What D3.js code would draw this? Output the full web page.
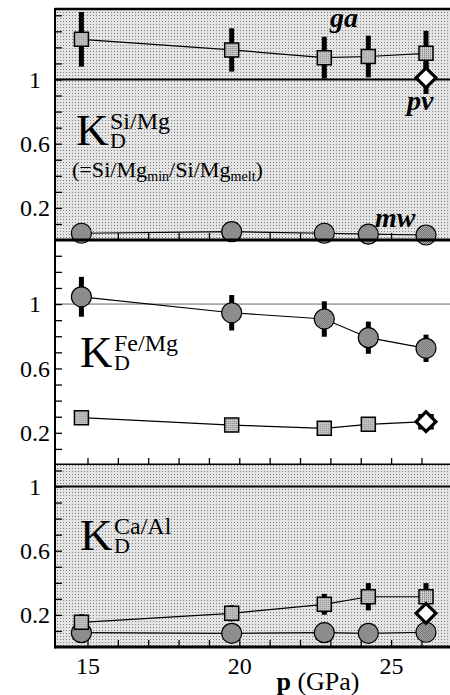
<!DOCTYPE html>
<html>
<head>
<meta charset="utf-8">
<script src="https://cdn.jsdelivr.net/npm/d3@7"></script>
<style>
body{margin:0;background:#fff}
svg{display:block}
text{font-family:"Liberation Serif","DejaVu Serif",serif}
</style>
</head>
<body>
<div class="kd"></div>
<script>
// pressures of the five runs (GPa)
const pressure = [14.8, 19.75, 22.8, 24.25, 26.15];
const xTickLabels = [15, 20, 25];
const yTickLabels = [0.2, 0.6, 1];

// Si/Mg
const siMgGa = [1.25, 1.184, 1.136, 1.143, 1.163];
const siMgGaErr = [0.17, 0.135, 0.13, 0.13, 0.14];
const siMgMw = [0.042, 0.052, 0.042, 0.036, 0.031];
const siMgPv = 1.01, siMgPvErr = 0.1;

// Fe/Mg
const feMgMw = [1.045, 0.946, 0.907, 0.791, 0.725];
const feMgMwErr = [0.124, 0.11, 0.11, 0.1, 0.085];
const feMgGa = [0.294, 0.248, 0.228, 0.253, 0.269];
const feMgPv = 0.269;

// Ca/Al
const caAlGa = [0.154, 0.21, 0.266, 0.313, 0.313];
const caAlGaErr = [0.05, 0.05, 0.065, 0.085, 0.085];
const caAlMw = [0.089, 0.085, 0.089, 0.085, 0.092];
const caAlPv = 0.21, caAlPvErr = 0.1;

const width = 450, height = 695, left = 55;

const svg = d3.select(".kd")
  .append("svg")
  .attr("width", width)
  .attr("height", height);

// dotted fills
const defs = svg.append("defs");
function dots(id, size, bg, fg, pts) {
  const p = defs.append("pattern").attr("id", id)
    .attr("width", size).attr("height", size)
    .attr("patternUnits", "userSpaceOnUse");
  p.append("rect").attr("width", size).attr("height", size).attr("fill", bg);
  pts.forEach(d => p.append("rect").attr("x", d[0]).attr("y", d[1])
    .attr("width", 1).attr("height", 1).attr("fill", fg));
}
dots("bgDots", 3, "#e4e4e4", "#808080", [[0, 0]]);
dots("sqDots", 2, "#cfcfcf", "#6a6a6a", [[0, 0]]);
dots("ciDots", 2, "#ababab", "#6e6e6e", [[0, 0], [1, 1]]);

const x = d3.scaleLinear().domain([13.93, 26.94]).range([left, width]);

const panels = [
  {top: 9, bottom: 240, max: 1.439, shaded: true, ref: ["#000", 2],
   sq: siMgGa, sqErr: siMgGaErr, ci: siMgMw, ciErr: null,
   pv: siMgPv, pvErr: siMgPvErr},
  {top: 240, bottom: 465, max: 1.398, shaded: false, ref: ["#666", 1],
   sq: feMgGa, sqErr: null, ci: feMgMw, ciErr: feMgMwErr,
   pv: feMgPv, pvErr: 0},
  {top: 465, bottom: 647, max: 1.134, shaded: true, ref: ["#000", 2],
   sq: caAlGa, sqErr: caAlGaErr, ci: caAlMw, ciErr: null,
   pv: caAlPv, pvErr: caAlPvErr}
];

const line = y => d3.line().x((d, i) => x(pressure[i])).y(d => y(d));
const sqSym = d3.symbol(d3.symbolSquare, 14 * 14);
const ciSym = d3.symbol(d3.symbolCircle, Math.PI * 10 * 10);
const diaSym = d3.symbol(d3.symbolSquare, 14 * 14);

panels.forEach((pn, k) => {
  const y = d3.scaleLinear().domain([0, pn.max]).range([pn.bottom, pn.top]);
  const g = svg.append("g");

  if (pn.shaded) {
    g.append("rect").attr("x", left).attr("y", pn.top)
      .attr("width", width - left).attr("height", pn.bottom - pn.top)
      .attr("fill", "url(#bgDots)");
  }

  // reference line at K = 1
  g.append("line").attr("x1", left).attr("x2", width)
    .attr("y1", y(1)).attr("y2", y(1))
    .attr("stroke", pn.ref[0]).attr("stroke-width", pn.ref[1]);

  // minor ticks on left, every 0.1
  g.append("g").attr("transform", `translate(${left},0)`)
    .call(d3.axisRight(y).tickValues(d3.range(0.1, pn.max, 0.1)).tickSize(7).tickFormat(""))
    .call(a => a.select(".domain").remove())
    .selectAll("line").attr("stroke-width", 1.3);

  // labels
  g.append("g").attr("transform", `translate(${left},0)`)
    .call(d3.axisLeft(y).tickValues(yTickLabels).tickSize(0).tickFormat(d3.format("~g")))
    .call(a => a.select(".domain").remove())
    .selectAll("text")
    .attr("x", -20).attr("text-anchor", "middle")
    .attr("font-size", 24).attr("fill", "#000");

  // pressure ticks along panel bottom
  g.append("g").attr("transform", `translate(0,${pn.bottom})`)
    .call(d3.axisTop(x).tickValues(d3.range(15, 27)).tickSize(7).tickFormat(""))
    .call(a => a.select(".domain").remove())
    .selectAll("line").attr("stroke-width", 1.3);

  // connecting lines
  g.append("path").datum(pn.sq).attr("d", line(y))
    .attr("fill", "none").attr("stroke", "#000").attr("stroke-width", 1.2);
  g.append("path").datum(pn.ci).attr("d", line(y))
    .attr("fill", "none").attr("stroke", "#000").attr("stroke-width", 1.2);

  // error bars
  const bar = (vals, errs) => g.append("g").selectAll("line")
    .data(vals.map((v, i) => [pressure[i], v, errs[i]]))
    .join("line")
    .attr("x1", d => x(d[0])).attr("x2", d => x(d[0]))
    .attr("y1", d => y(d[1] - d[2])).attr("y2", d => y(d[1] + d[2]))
    .attr("stroke", "#000").attr("stroke-width", 5);
  if (pn.sqErr) bar(pn.sq, pn.sqErr);
  if (pn.ciErr) bar(pn.ci, pn.ciErr);
  if (pn.pvErr) bar([pn.pv], [pn.pvErr]).attr("x1", x(pressure[4])).attr("x2", x(pressure[4]));

  g.append("g").selectAll("path")
    .data(pn.ci).join("path")
    .attr("transform", (d, i) => `translate(${x(pressure[i])},${y(d)})`)
    .attr("d", ciSym)
    .attr("fill", "url(#ciDots)").attr("stroke", "#000").attr("stroke-width", 1.2);

  g.append("g").selectAll("path")
    .data(pn.sq).join("path")
    .attr("transform", (d, i) => `translate(${x(pressure[i])},${y(d)})`)
    .attr("d", sqSym)
    .attr("fill", "url(#sqDots)").attr("stroke", "#000").attr("stroke-width", 1.5);

  g.append("path")
    .attr("transform", `translate(${x(pressure[4])},${y(pn.pv)}) rotate(45)`)
    .attr("d", diaSym)
    .attr("fill", "#fff").attr("stroke", "#000").attr("stroke-width", 3.2);

  // panel bottom frame
  g.append("line").attr("x1", left).attr("x2", width)
    .attr("y1", pn.bottom).attr("y2", pn.bottom)
    .attr("stroke", "#000").attr("stroke-width", 3);
});

// outer frame
svg.append("line").attr("x1", left).attr("x2", width).attr("y1", 9).attr("y2", 9)
  .attr("stroke", "#000").attr("stroke-width", 2.5);
svg.append("line").attr("x1", left).attr("x2", left).attr("y1", 8).attr("y2", 648.5)
  .attr("stroke", "#000").attr("stroke-width", 2);

// x axis labels
svg.append("g").attr("transform", `translate(0,648)`)
  .call(d3.axisBottom(x).tickValues(xTickLabels).tickSize(0).tickPadding(9))
  .call(a => a.select(".domain").remove())
  .selectAll("text")
  .attr("font-size", 24).attr("fill", "#000");

const xt = svg.append("text").attr("x", 318).attr("y", 690)
  .attr("text-anchor", "middle").attr("font-size", 26);
xt.append("tspan").attr("font-weight", "bold").text("p");
xt.append("tspan").text(" (GPa)");

// K_D labels
function kd(xk, yk, sup) {
  svg.append("text").attr("x", xk).attr("y", yk).attr("font-size", 45).text("K");
  svg.append("text").attr("x", xk + 34).attr("y", yk - 16).attr("font-size", 24).text(sup);
  svg.append("text").attr("x", xk + 34).attr("y", yk + 3).attr("font-size", 22).text("D");
}
kd(76, 145, "Si/Mg");
kd(80, 367, "Fe/Mg");
kd(80, 550, "Ca/Al");

const note = svg.append("text").attr("x", 72).attr("y", 177)
  .attr("font-size", 22).attr("textLength", 191).attr("lengthAdjust", "spacingAndGlyphs");
note.append("tspan").text("(=Si/Mg");
note.append("tspan").attr("font-size", 14).attr("dy", 4).text("min");
note.append("tspan").attr("dy", -4).text("/Si/Mg");
note.append("tspan").attr("font-size", 14).attr("dy", 4).text("melt");
note.append("tspan").attr("dy", -4).text(")");

// phase labels
const phase = [["ga", 330, 27], ["pv", 407, 110], ["mw", 375, 227]];
svg.append("g").selectAll("text").data(phase).join("text")
  .attr("x", d => d[1]).attr("y", d => d[2])
  .attr("font-size", 28).attr("font-style", "italic").attr("font-weight", "bold")
  .text(d => d[0]);
</script>
</body>
</html>
